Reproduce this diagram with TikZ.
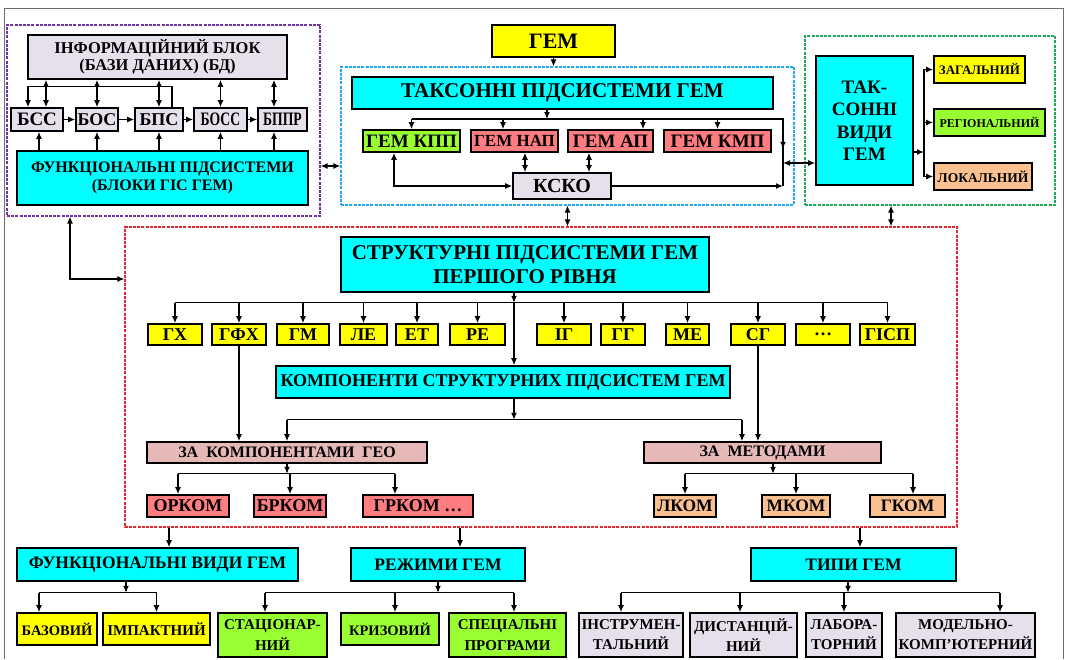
\documentclass[tikz,border=0pt]{standalone}
\usepackage{fontspec}
\setmainfont{Liberation Serif}
\newfontfamily\narrowserif[FakeStretch=0.72]{Liberation Serif}
\usetikzlibrary{arrows.meta}
\definecolor{cyanBox}{HTML}{00FFFF}
\definecolor{yellowBox}{HTML}{FFFF00}
\definecolor{lavBox}{HTML}{E6E0EC}
\definecolor{greenBox}{HTML}{99FF33}
\definecolor{redBox}{HTML}{FF7C80}
\definecolor{peachBox}{HTML}{FAC090}
\definecolor{roseBox}{HTML}{E6B9B8}
\definecolor{purpleDash}{HTML}{7030A0}
\definecolor{blueDash}{HTML}{1EAAF0}
\definecolor{greenDash}{HTML}{1FA85A}
\definecolor{redDash}{HTML}{E0282E}
\definecolor{frameGray}{HTML}{6E6E6E}

\tikzset{
  blk/.style={draw, line width=1.6pt, inner sep=0pt, align=center},
  sz/.style 2 args={font=\bfseries\fontsize{#1}{#2}\selectfont},
  nsz/.style 2 args={font=\narrowserif\bfseries\fontsize{#1}{#2}\selectfont},
  grp/.style={draw, dash pattern=on 3pt off 1.2pt, line width=1.05pt, inner sep=0pt},
  con/.style={line width=1.3pt},
  arr/.style={con, -{Latex[length=7pt,width=6pt]}},
  darr/.style={con, {Latex[length=7pt,width=6pt]}-{Latex[length=7pt,width=6pt]}},
}

\begin{document}
\begin{tikzpicture}[x=1pt, y=-1pt]
\useasboundingbox (0,0) rectangle (1066,659);
% page frame
\draw[frameGray, line width=1pt] (4,659) -- (4,8) -- (1063,8) -- (1063,659);

% Groups
\node[grp, draw=purpleDash, minimum width=313pt, minimum height=191pt] (grpP) at (163.5,120.5) {};
\node[grp, draw=blueDash, minimum width=453pt, minimum height=138pt] (grpB) at (567.5,136) {};
\node[grp, draw=greenDash, minimum width=250pt, minimum height=169pt] (grpG) at (930,120.5) {};
\node[grp, draw=redDash, minimum width=832pt, minimum height=300pt] (grpR) at (541,377) {};

% Information block
\node[blk, fill=lavBox, minimum width=259pt, minimum height=44pt, sz={16.5}{17}] (info) at (157.5,57) {ІНФОРМАЦІЙНИЙ БЛОК\\(БАЗИ ДАНИХ) (БД)};
\node[blk, fill=lavBox, minimum width=52pt, minimum height=23pt, sz={19}{19}] (bss) at (37,119.5) {БСС};
\node[blk, fill=lavBox, minimum width=42pt, minimum height=23pt, sz={18}{18}] (bos) at (97,119.5) {БОС};
\node[blk, fill=lavBox, minimum width=48pt, minimum height=23pt, sz={18}{18}] (bps) at (159,119.5) {БПС};
\node[blk, fill=lavBox, minimum width=53pt, minimum height=23pt, nsz={19}{19}] (boss) at (220.5,119.5) {БОСС};
\node[blk, fill=lavBox, minimum width=49pt, minimum height=23pt, nsz={19}{19}] (bppr) at (282.5,119.5) {БППР};
\node[blk, fill=cyanBox, minimum width=291pt, minimum height=54pt, sz={16}{18}] (func) at (162.5,178) {ФУНКЦІОНАЛЬНІ ПІДСИСТЕМИ\\(БЛОКИ ГІС ГЕМ)};

% Taxon subsystems
\node[blk, fill=yellowBox, minimum width=123pt, minimum height=32pt, sz={22}{22}] (gem) at (553.5,41) {ГЕМ};
\node[blk, fill=cyanBox, minimum width=421pt, minimum height=32pt, sz={21}{21}] (tax) at (562.5,93) {ТАКСОННІ ПІДСИСТЕМИ ГЕМ};
\node[blk, fill=greenBox, minimum width=97pt, minimum height=22pt, sz={19}{19}] (kpp) at (411.5,141) {ГЕМ КПП};
\node[blk, fill=redBox, minimum width=87pt, minimum height=22pt, sz={17}{17}] (nap) at (514.5,141) {ГЕМ НАП};
\node[blk, fill=redBox, minimum width=85pt, minimum height=22pt, sz={19}{19}] (ap) at (610.5,141) {ГЕМ АП};
\node[blk, fill=redBox, minimum width=107pt, minimum height=22pt, sz={19}{19}] (kmp) at (717.5,141) {ГЕМ КМП};
\node[blk, fill=lavBox, minimum width=98pt, minimum height=26pt, sz={20}{20}] (ksko) at (562,186) {КСКО};

% Taxon kinds
\node[blk, fill=cyanBox, minimum width=97pt, minimum height=129pt, sz={19}{22.5}] (taks) at (864.5,120.5) {ТАК-\\СОННІ\\ВИДИ\\ГЕМ};
\node[blk, fill=yellowBox, minimum width=91pt, minimum height=27pt, sz={13}{13}] (zag) at (979.5,69.5) {ЗАГАЛЬНИЙ};
\node[blk, fill=greenBox, minimum width=111pt, minimum height=27pt, sz={12}{12}] (reg) at (989.5,122.5) {РЕГІОНАЛЬНИЙ};
\node[blk, fill=peachBox, minimum width=98pt, minimum height=27pt, sz={13.5}{13.5}] (lok) at (983,176.5) {ЛОКАЛЬНИЙ};

% Structural subsystems
\node[blk, fill=cyanBox, minimum width=368pt, minimum height=55pt, sz={21}{24}] (str) at (525,264.5) {СТРУКТУРНІ ПІДСИСТЕМИ ГЕМ\\ПЕРШОГО РІВНЯ};
\node[blk, fill=yellowBox, minimum width=54pt, minimum height=21pt, sz={18}{18}] (gx) at (175,334.5) {ГХ};
\node[blk, fill=yellowBox, minimum width=54pt, minimum height=21pt, sz={18}{18}] (gfx) at (239,334.5) {ГФХ};
\node[blk, fill=yellowBox, minimum width=52pt, minimum height=21pt, sz={18}{18}] (gm) at (303,334.5) {ГМ};
\node[blk, fill=yellowBox, minimum width=47pt, minimum height=21pt, sz={18}{18}] (le) at (363.5,334.5) {ЛЕ};
\node[blk, fill=yellowBox, minimum width=42pt, minimum height=21pt, sz={18}{18}] (et) at (417,334.5) {ЕТ};
\node[blk, fill=yellowBox, minimum width=55pt, minimum height=21pt, sz={18}{18}] (re) at (477.5,334.5) {РЕ};
\node[blk, fill=yellowBox, minimum width=54pt, minimum height=21pt, sz={18}{18}] (ig) at (564,334.5) {ІГ};
\node[blk, fill=yellowBox, minimum width=44pt, minimum height=21pt, sz={18}{18}] (gg) at (623,334.5) {ГГ};
\node[blk, fill=yellowBox, minimum width=43pt, minimum height=21pt, sz={18}{18}] (me) at (687.5,334.5) {МЕ};
\node[blk, fill=yellowBox, minimum width=54pt, minimum height=21pt, sz={18}{18}] (sg) at (758,334.5) {СГ};
\node[blk, fill=yellowBox, minimum width=54pt, minimum height=21pt, sz={18}{18}] (dots) at (823,334.5) {…};
\node[blk, fill=yellowBox, minimum width=55pt, minimum height=21pt, sz={18}{18}] (gisp) at (887.5,334.5) {ГІСП};
\node[blk, fill=cyanBox, minimum width=454pt, minimum height=32pt, sz={18}{18}] (komp) at (503,382) {КОМПОНЕНТИ СТРУКТУРНИХ ПІДСИСТЕМ ГЕМ};
\node[blk, fill=roseBox, minimum width=280pt, minimum height=21pt, sz={16}{16}] (zakg) at (287,452.5) {ЗА\ \ КОМПОНЕНТАМИ\ \ ГЕО};
\node[blk, fill=roseBox, minimum width=237pt, minimum height=21pt, sz={16}{16}] (zamet) at (762.5,452.5) {ЗА\ \ МЕТОДАМИ};
\node[blk, fill=redBox, minimum width=82pt, minimum height=22pt, sz={18}{18}] (ork) at (188,506) {ОРКОМ};
\node[blk, fill=redBox, minimum width=72pt, minimum height=22pt, sz={18}{18}] (brk) at (290,506) {БРКОМ};
\node[blk, fill=redBox, minimum width=110pt, minimum height=22pt, sz={18}{18}] (grk) at (418,506) {ГРКОМ …};
\node[blk, fill=peachBox, minimum width=62pt, minimum height=22pt, sz={17.5}{17.5}] (lkom) at (685,506) {ЛКОМ};
\node[blk, fill=peachBox, minimum width=68pt, minimum height=22pt, sz={17.5}{17.5}] (mkom) at (796,506) {МКОМ};
\node[blk, fill=peachBox, minimum width=75pt, minimum height=22pt, sz={17.5}{17.5}] (gkom) at (907.5,506) {ГКОМ};

% Bottom row
\node[blk, fill=cyanBox, minimum width=281pt, minimum height=33pt, sz={17.5}{17.5}] (fvid) at (157.5,564.5) {ФУНКЦІОНАЛЬНІ ВИДИ ГЕМ};
\node[blk, fill=cyanBox, minimum width=174pt, minimum height=33pt, sz={17.5}{17.5}] (rezh) at (438,564.5) {РЕЖИМИ ГЕМ};
\node[blk, fill=cyanBox, minimum width=205pt, minimum height=33pt, sz={17.5}{17.5}] (typy) at (853.5,564.5) {ТИПИ ГЕМ};
\node[blk, fill=yellowBox, minimum width=80pt, minimum height=32pt, sz={14.5}{14.5}] (baz) at (57,629) {БАЗОВИЙ};
\node[blk, fill=yellowBox, minimum width=107pt, minimum height=32pt, sz={15}{15}] (imp) at (156.5,629) {ІМПАКТНИЙ};
\node[blk, fill=greenBox, minimum width=109pt, minimum height=44pt, sz={15}{21}] (stac) at (272.5,635) {СТАЦІОНАР-\\НИЙ};
\node[blk, fill=greenBox, minimum width=98pt, minimum height=32pt, sz={14.5}{14.5}] (kriz) at (390,629) {КРИЗОВИЙ};
\node[blk, fill=greenBox, minimum width=117pt, minimum height=44pt, sz={15}{21}] (spec) at (507.5,635) {СПЕЦІАЛЬНІ\\ПРОГРАМИ};
\node[blk, fill=lavBox, minimum width=104pt, minimum height=44pt, sz={15}{20}] (instr) at (631,635) {ІНСТРУМЕН-\\ТАЛЬНИЙ};
\node[blk, fill=lavBox, minimum width=107pt, minimum height=44pt, sz={15}{20}] (dist) at (743.5,635) {ДИСТАНЦІЙ-\\НИЙ};
\node[blk, fill=lavBox, minimum width=76pt, minimum height=44pt, sz={15}{20}] (lab) at (844,635) {ЛАБОРА-\\ТОРНИЙ};
\node[blk, fill=lavBox, minimum width=139pt, minimum height=44pt, sz={15}{20}] (model) at (965.5,635) {МОДЕЛЬНО-\\КОМП'ЮТЕРНИЙ};

% Bus points
\coordinate (rtop) at (783,119);
\coordinate (tv) at (924,152);
\coordinate (busS) at ([yshift=-10pt]str.south);
\coordinate (busK) at ([yshift=-21pt]komp.south);
\coordinate (busZ) at ([yshift=-10pt]zakg.south);
\coordinate (busB) at ([yshift=-11pt]fvid.south);

% Information block arrows
\draw[darr] ([xshift=9pt]bss.north) -- ([xshift=9pt]bss.north |- info.south);
\draw[darr] (bos.north) -- (bos.north |- info.south);
\draw[darr] (bps.north) -- (bps.north |- info.south);
\draw[darr] (boss.north) -- (boss.north |- info.south);
\draw[darr] ([xshift=-8.5pt]bppr.north) -- ([xshift=-8.5pt]bppr.north |- info.south);
\draw[arr] ([xshift=13pt]bps.north) -- ++(0,-21) -| ([xshift=-9pt]bss.north);
\draw[arr] (bss) -- (bos);
\draw[arr] (bos) -- (bps);
\draw[arr] (bps) -- (boss);
\draw[arr] (boss) -- (bppr);
\draw[arr] ([xshift=2pt]bss.south |- func.north) -- ([xshift=2pt]bss.south);
\draw[arr] (bos.south |- func.north) -- (bos.south);
\draw[arr] (bps.south |- func.north) -- (bps.south);
\draw[arr] (boss.south |- func.north) -- (boss.south);
\draw[arr] ([xshift=-8.5pt]bppr.south |- func.north) -- ([xshift=-8.5pt]bppr.south);

% Taxon subsystem arrows
\draw[arr] (gem) -- (gem.south |- grpB.north);
\draw[arr] ([xshift=-15.5pt]tax.south) -- ([xshift=-15.5pt]tax.south |- rtop);
\draw[con] (kpp.north |- rtop) -- (rtop) -- (rtop |- ksko.east);
\draw[arr] (kpp.north |- rtop) -- (kpp.north);
\draw[arr] ([xshift=-11.5pt]nap.north |- rtop) -- ([xshift=-11.5pt]nap.north);
\draw[arr] ([xshift=32.5pt]ap.north |- rtop) -- ([xshift=32.5pt]ap.north);
\draw[arr] (kmp.north |- rtop) -- (kmp.north);
\draw[arr] (rtop) -- ([yshift=4pt]rtop |- kmp.south);
\draw[darr] ([xshift=-17.5pt]kpp.south) |- (ksko.west);
\draw[darr] ([xshift=10.5pt]nap.south) -- ([xshift=10.5pt]nap.south |- ksko.north);
\draw[darr] ([xshift=-21.5pt]ap.south) -- ([xshift=-21.5pt]ap.south |- ksko.north);
\draw[arr] (ksko.east) -- (ksko.east -| rtop);
\draw[darr] ([yshift=-42.5pt]taks.west -| rtop) -- ([yshift=-42.5pt]taks.west);

% Taxon kinds arrows
\draw[arr] ([yshift=-31.5pt]taks.east) -- (tv);
\draw[arr] (tv) |- (zag.west);
\draw[arr] (tv) |- (reg.west);
\draw[arr] (tv) |- (lok.west);

% Links between groups
\draw[darr] ([yshift=-45.5pt]grpP.east) -- ([yshift=-45.5pt]grpP.east -| grpB.west);
\draw[darr] (grpB.south) -- (grpB.south |- grpR.north);
\draw[darr] ([xshift=-39pt]grpG.south) -- ([xshift=-39pt]grpG.south |- grpR.north);
\draw[darr] ([xshift=-93.5pt]grpP.south) |- ([yshift=98pt]grpR.west);

% Structural arrows
\draw[arr] ([xshift=-11pt]str.south) -- ([xshift=-11pt]str.south |- busS);
\draw[con] (gx.north |- busS) -- (gisp.north |- busS);
\draw[arr] (gx.north |- busS) -- (gx.north);
\draw[arr] (gfx.north |- busS) -- (gfx.north);
\draw[arr] (gm.north |- busS) -- (gm.north);
\draw[arr] (le.north |- busS) -- (le.north);
\draw[arr] (et.north |- busS) -- (et.north);
\draw[arr] (re.north |- busS) -- (re.north);
\draw[arr] (ig.north |- busS) -- (ig.north);
\draw[arr] (gg.north |- busS) -- (gg.north);
\draw[arr] (me.north |- busS) -- (me.north);
\draw[arr] (sg.north |- busS) -- (sg.north);
\draw[arr] (dots.north |- busS) -- (dots.north);
\draw[arr] (gisp.north |- busS) -- (gisp.north);
\draw[arr] ([xshift=-11pt]str.south |- busS) -- ([xshift=11pt]komp.north);
\draw[arr] ([xshift=11pt]komp.south) -- ([xshift=11pt]komp.south |- busK);
\draw[con] (zakg.north |- busK) -- ([xshift=-20.5pt]zamet.north |- busK);
\draw[arr] (zakg.north |- busK) -- (zakg.north);
\draw[arr] ([xshift=-20.5pt]zamet.north |- busK) -- ([xshift=-20.5pt]zamet.north);
\draw[arr] (gfx) -- (gfx.south |- zakg.north);
\draw[arr] (sg) -- (sg.south |- zamet.north);
\draw[arr] (zakg) -- (zakg.south |- busZ);
\draw[con] ([xshift=-10pt]ork.north |- busZ) -- ([xshift=-23pt]grk.north |- busZ);
\draw[arr] ([xshift=-10pt]ork.north |- busZ) -- ([xshift=-10pt]ork.north);
\draw[arr] (brk.north |- busZ) -- (brk);
\draw[arr] ([xshift=-23pt]grk.north |- busZ) -- ([xshift=-23pt]grk.north);
\draw[arr] ([xshift=10.5pt]zamet.south) -- ([xshift=10.5pt]zamet.south |- busZ);
\draw[con] (lkom.north |- busZ) -- ([xshift=5.5pt]gkom.north |- busZ);
\draw[arr] (lkom.north |- busZ) -- (lkom);
\draw[arr] (mkom.north |- busZ) -- (mkom);
\draw[arr] ([xshift=5.5pt]gkom.north |- busZ) -- ([xshift=5.5pt]gkom.north);

% Bottom arrows
\draw[arr] ([xshift=11.5pt]fvid.north |- grpR.south) -- ([xshift=11.5pt]fvid.north);
\draw[arr] ([xshift=22pt]rezh.north |- grpR.south) -- ([xshift=22pt]rezh.north);
\draw[arr] ([xshift=6.5pt]typy.north |- grpR.south) -- ([xshift=6.5pt]typy.north);
\draw[arr] ([xshift=-31.5pt]fvid.south) -- ([xshift=-31.5pt]fvid.south |- busB);
\draw[con] ([xshift=-18pt]baz.north |- busB) -- (imp.north |- busB);
\draw[arr] ([xshift=-18pt]baz.north |- busB) -- ([xshift=-18pt]baz.north);
\draw[arr] (imp.north |- busB) -- (imp);
\draw[arr] (rezh) -- (rezh.south |- busB);
\draw[con] ([xshift=-7.5pt]stac.north |- busB) -- ([xshift=6.5pt]spec.north |- busB);
\draw[arr] ([xshift=-7.5pt]stac.north |- busB) -- ([xshift=-7.5pt]stac.north);
\draw[arr] ([xshift=5pt]kriz.north |- busB) -- ([xshift=5pt]kriz.north);
\draw[arr] ([xshift=6.5pt]spec.north |- busB) -- ([xshift=6.5pt]spec.north);
\draw[arr] ([xshift=-5.5pt]typy.south) -- ([xshift=-5.5pt]typy.south |- busB);
\draw[con] ([xshift=-10pt]instr.north |- busB) -- ([xshift=34.5pt]model.north |- busB);
\draw[arr] ([xshift=-10pt]instr.north |- busB) -- ([xshift=-10pt]instr.north);
\draw[arr] ([xshift=-3.5pt]dist.north |- busB) -- ([xshift=-3.5pt]dist.north);
\draw[arr] (lab.north |- busB) -- (lab);
\draw[arr] ([xshift=34.5pt]model.north |- busB) -- ([xshift=34.5pt]model.north);
\end{tikzpicture}
\end{document}
